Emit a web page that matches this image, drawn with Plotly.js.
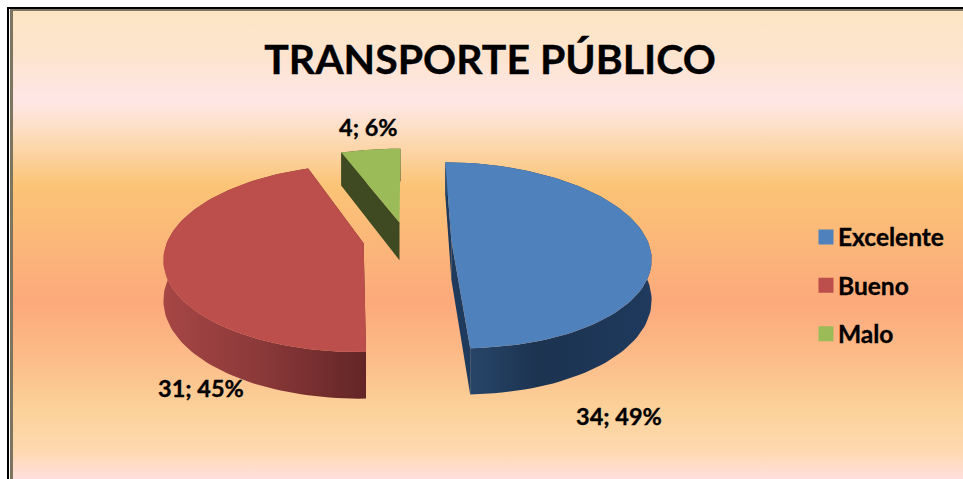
<!DOCTYPE html>
<html><head><meta charset="utf-8">
<script src="https://cdn.plot.ly/plotly-3.0.1.min.js"></script>
<style>
html,body{margin:0;padding:0;width:963px;height:479px;overflow:hidden;background:#fff}
#frame{position:absolute;left:7px;top:7px;width:956px;height:472px;background:#fff;border-left:2px solid #000;border-top:2px solid #000;box-sizing:border-box}
#panel{position:absolute;left:10px;top:9px;width:953px;height:470px;box-sizing:border-box;border-left:3px solid #7d7560;border-top:2px solid #7d7560;
background:linear-gradient(to bottom,#fce6c3 0px,#fde4cf 45px,#fee6e6 90px,#fde0c8 115px,#fbc476 175px,#fbb779 230px,#fca97c 292px,#fcbb88 345px,#fcd29a 400px,#fed9b0 440px,#ffe0e2 470px)}
#plot{position:absolute;left:0;top:0;width:963px;height:479px}
.main-svg text{stroke:#000;stroke-width:.35px}
</style></head><body>
<div id="frame"></div><div id="panel"></div><div id="plot"></div>
<script>
const categories = ['Excelente','Bueno','Malo'];
const values = [34,31,4];
const topColors = ['#4F81BD','#BC4E4C','#9BBB59'];
const wallGradients = [
  [[0,'#2C4C72'],[0.45,'#1C3350'],[1,'#1F3A5E']],
  [[0,'#A64645'],[0.5,'#8A3839'],[1,'#632526']],
  [[0,'#404A22'],[1,'#404A22']]
];
const innerWallColors = ['#1E3A5C','#632526','#404A22'];

// projection of the tilted pie
const view = {x0:390, y0:240.5, a:196, b:90.7, k:0.158, depth:39, startDeg:0.8};
const explode = [[0.313,0],[-0.134,-0.03],[0.05,0.205]];
const labelPos = [[619,416],[201,388],[368,127]];

function project(t,r,slice,z){
  const U = r*Math.sin(t)+explode[slice][0];
  const V = r*Math.cos(t)+explode[slice][1];
  const w = 1+view.k*V;
  return [view.x0+view.a*U/w, view.y0+(-view.b*V+view.depth*z)/w];
}
const total = values.reduce((a,b)=>a+b,0);
const traces = [];
function poly(pts,style){
  traces.push(Object.assign({type:'scatter',mode:'lines',x:pts.map(p=>p[0]),y:pts.map(p=>p[1]),
    fill:'toself',line:{width:0},hoverinfo:'skip',showlegend:false},style));
}
let cum = 0; const tops=[];
values.forEach((v,i)=>{
  const a0 = (view.startDeg+cum/total*360)*Math.PI/180;
  cum += v;
  const a1 = (view.startDeg+cum/total*360)*Math.PI/180;
  const arc = z=>{const out=[];const n=90;for(let j=0;j<=n;j++){out.push(project(a0+(a1-a0)*j/n,1,i,z));}return out;};
  const apex = z=>project(0,0,i,z);
  const top = arc(0).concat([apex(0)]);
  const wallStyle = {fillcolor:innerWallColors[i]};
  poly([project(a0,1,i,0),apex(0),apex(1),project(a0,1,i,1),project(a0,1,i,0)],wallStyle);
  poly([project(a1,1,i,0),apex(0),apex(1),project(a1,1,i,1),project(a1,1,i,0)],wallStyle);
  poly(arc(0).concat(arc(1).reverse()),{fillgradient:{type:'horizontal',colorscale:wallGradients[i]}});
  tops.push({top,color:topColors[i]});
});
tops.forEach(t=>poly(t.top.concat([t.top[0]]),{fillcolor:t.color}));
categories.forEach((c,i)=>{
  traces.push({type:'scatter',mode:'markers',x:[null],y:[null],name:c,legendgroup:c,
    marker:{symbol:'square',size:15,color:topColors[i]},showlegend:true,hoverinfo:'skip'});
});
const labelFont = {family:'Lato, "Open Sans", sans-serif',size:23.5,color:'#000',weight:700};
const annotations = values.map((v,i)=>({
  x:labelPos[i][0],y:labelPos[i][1],xref:'x',yref:'y',showarrow:false,
  text:v+'; '+Math.round(v/total*100)+'%',font:labelFont,xanchor:'center',yanchor:'middle'}));
const layout = {
  width:963,height:479,margin:{l:0,r:0,t:0,b:0},
  paper_bgcolor:'rgba(0,0,0,0)',plot_bgcolor:'rgba(0,0,0,0)',
  title:{text:'TRANSPORTE PÚBLICO',font:{family:'Lato, "Open Sans", sans-serif',size:41,color:'#000',weight:700},
    x:490/963,xanchor:'center',y:1-60/479,yanchor:'middle'},
  xaxis:{range:[0,963],visible:false,fixedrange:true},
  yaxis:{range:[479,0],visible:false,fixedrange:true},
  showlegend:true,
  legend:{x:798/963,xanchor:'left',y:1-214.5/479,yanchor:'top',bgcolor:'rgba(0,0,0,0)',
    font:{family:'Lato, "Open Sans", sans-serif',size:24.5,color:'#000',weight:700},tracegroupgap:13.5,traceorder:'grouped'},
  annotations
};
Plotly.newPlot('plot',traces,layout,{displayModeBar:false,staticPlot:true}).then(()=>{
  document.querySelectorAll('.legend .legendpoints path').forEach(p=>{
    p.setAttribute('transform','translate(28,0)');
  });
});
</script></body></html>
